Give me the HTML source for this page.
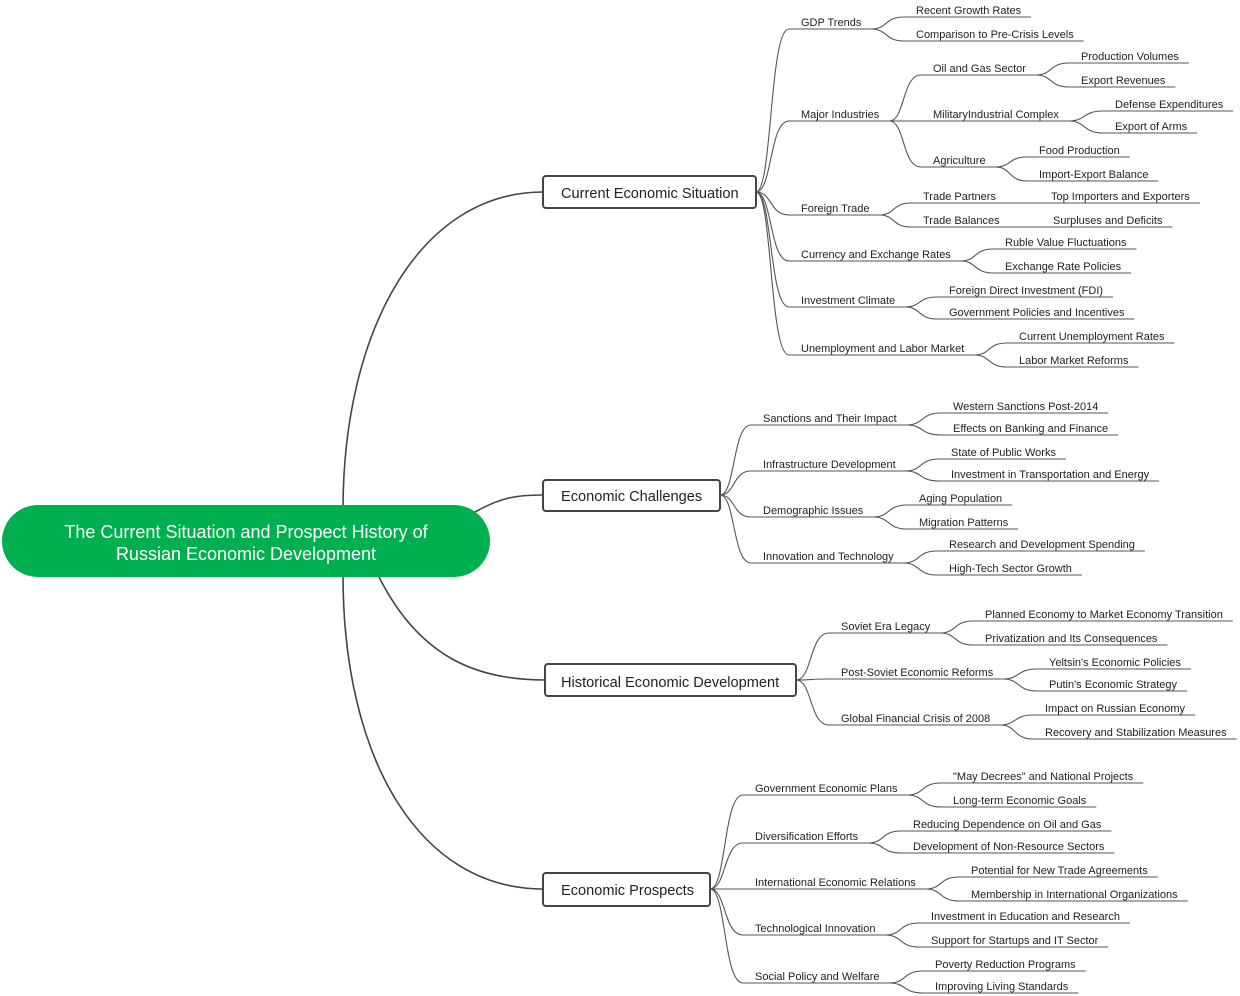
<!DOCTYPE html>
<html><head><meta charset="utf-8"><style>
html,body{margin:0;padding:0;background:#fff;width:1240px;height:996px;overflow:hidden}
svg{display:block}
text{font-family:"Liberation Sans",Arial,sans-serif}
</style></head><body>
<svg id="s" width="1240" height="996" viewBox="0 0 1240 996" xmlns="http://www.w3.org/2000/svg">
<g fill="none" stroke="#444" stroke-width="1.6">
<path d="M343 510 C343 330 420 192 543 192"/>
<path d="M475 512 C500 498 515 495 543 495"/>
<path d="M378 575 C420 660 480 680 545 680"/>
<path d="M343 575 C343 760 420 889 543 889"/>
</g>
<rect x="2" y="505" width="488" height="72" rx="36" fill="#00b050"/>
<text x="246" y="538" fill="#fff" font-size="18" text-anchor="middle">The Current Situation and Prospect History of</text>
<text x="246" y="560" fill="#fff" font-size="18" text-anchor="middle">Russian Economic Development</text>
<g id="boxes" fill="#fff" stroke="#444" stroke-width="2">
<rect x="543" y="176" width="213" height="32" rx="3"/>
<rect x="543" y="480" width="177" height="31" rx="3"/>
<rect x="545" y="664" width="251" height="32" rx="3"/>
<rect x="543" y="873" width="167" height="33" rx="3"/>
</g>
<g font-size="14.6" fill="#222">
<text x="561" y="198">Current Economic Situation</text>
<text x="561" y="501">Economic Challenges</text>
<text x="561" y="687">Historical Economic Development</text>
<text x="561" y="895">Economic Prospects</text>
</g>
<g id="links" fill="none" stroke="#555" stroke-width="1.1"></g>
<g id="labels" font-size="11" fill="#222"></g>
</svg>
<script>
var T=[
[756,192,[["GDP Trends",801,22,[["Recent Growth Rates",916,10],["Comparison to Pre-Crisis Levels",916,34]]],
["Major Industries",801,114,[["Oil and Gas Sector",933,68,[["Production Volumes",1081,56],["Export Revenues",1081,80]]],["MilitaryIndustrial Complex",933,114,[["Defense Expenditures",1115,104],["Export of Arms",1115,126]]],["Agriculture",933,160,[["Food Production",1039,150],["Import-Export Balance",1039,174]]]]],
["Foreign Trade",801,208,[["Trade Partners",923,196,[["Top Importers and Exporters",1051,196]]],["Trade Balances",923,220,[["Surpluses and Deficits",1053,220]]]]],
["Currency and Exchange Rates",801,254,[["Ruble Value Fluctuations",1005,242],["Exchange Rate Policies",1005,266]]],
["Investment Climate",801,300,[["Foreign Direct Investment (FDI)",949,290],["Government Policies and Incentives",949,312]]],
["Unemployment and Labor Market",801,348,[["Current Unemployment Rates",1019,336],["Labor Market Reforms",1019,360]]]]],
[720,495,[["Sanctions and Their Impact",763,418,[["Western Sanctions Post-2014",953,406],["Effects on Banking and Finance",953,428]]],
["Infrastructure Development",763,464,[["State of Public Works",951,452],["Investment in Transportation and Energy",951,474]]],
["Demographic Issues",763,510,[["Aging Population",919,498],["Migration Patterns",919,522]]],
["Innovation and Technology",763,556,[["Research and Development Spending",949,544],["High-Tech Sector Growth",949,568]]]]],
[796,680,[["Soviet Era Legacy",841,626,[["Planned Economy to Market Economy Transition",985,614],["Privatization and Its Consequences",985,638]]],
["Post-Soviet Economic Reforms",841,672,[["Yeltsin's Economic Policies",1049,662],["Putin's Economic Strategy",1049,684]]],
["Global Financial Crisis of 2008",841,718,[["Impact on Russian Economy",1045,708],["Recovery and Stabilization Measures",1045,732]]]]],
[710,889,[["Government Economic Plans",755,788,[["\"May Decrees\" and National Projects",953,776],["Long-term Economic Goals",953,800]]],
["Diversification Efforts",755,836,[["Reducing Dependence on Oil and Gas",913,824],["Development of Non-Resource Sectors",913,846]]],
["International Economic Relations",755,882,[["Potential for New Trade Agreements",971,870],["Membership in International Organizations",971,894]]],
["Technological Innovation",755,928,[["Investment in Education and Research",931,916],["Support for Startups and IT Sector",931,940]]],
["Social Policy and Welfare",755,976,[["Poverty Reduction Programs",935,964],["Improving Living Standards",935,986]]]]]
];
var NS="http://www.w3.org/2000/svg",L=document.getElementById('links'),G=document.getElementById('labels');
function el(p,n,a){var e=document.createElementNS(NS,n);for(var k in a)e.setAttribute(k,a[k]);p.appendChild(e);return e;}
function node(px,py,n){
 var t=el(G,'text',{x:n[1],y:n[2]+4});t.textContent=n[0];
 var w=t.getComputedTextLength();var uy=n[2]+7,x0=n[1]-12,x1=n[1]+w+10;
 var mx=(px+x0)/2;
 el(L,'path',{d:'M'+px+' '+py+' C'+mx+' '+py+' '+(mx-(x0-px)*0.1)+' '+uy+' '+x0+' '+uy});
 el(L,'path',{d:'M'+x0+' '+uy+' L'+x1+' '+uy});
 if(n[3])n[3].forEach(function(c){node(x1,uy,c);});
}
T.forEach(function(b){b[2].forEach(function(n){node(b[0],b[1],n);});});
</script>
</body></html>
